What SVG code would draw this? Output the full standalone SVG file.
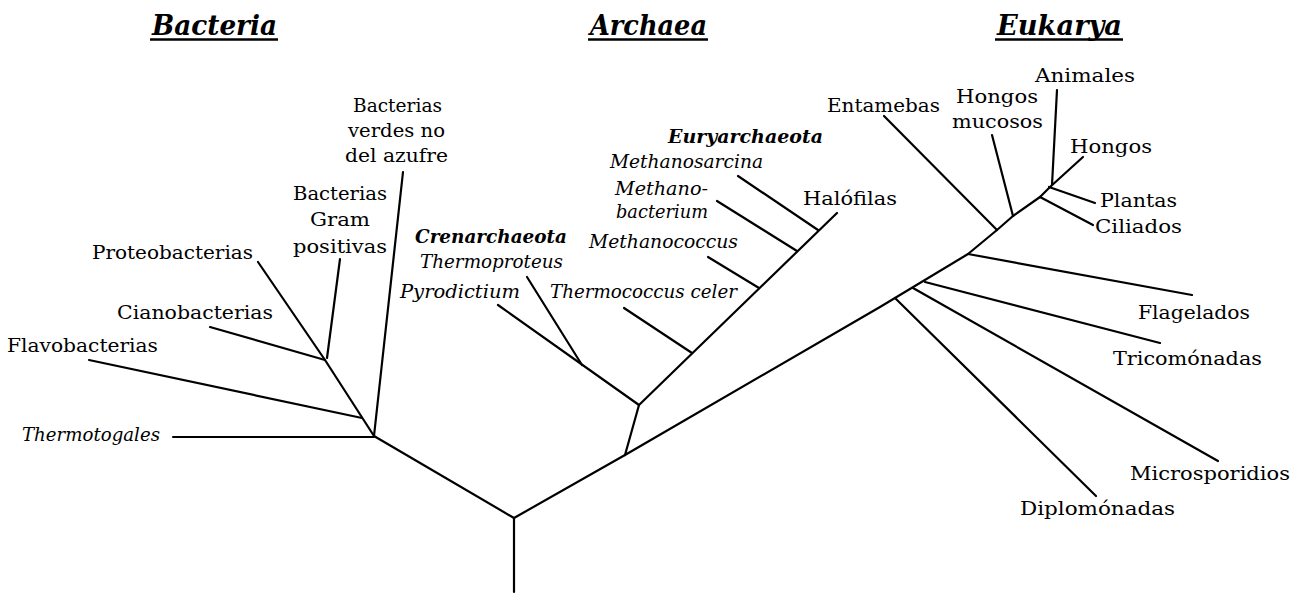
<svg xmlns="http://www.w3.org/2000/svg" width="1296" height="598" viewBox="0 0 1296 598">
<style>
text{font-family:"DejaVu Serif","Liberation Serif",serif;font-size:18px;fill:#000}
.i{font-style:italic}
.bi{font-style:italic;font-weight:bold}
.t{font-style:italic;font-weight:bold;font-size:27px}
.ul{stroke:#000;stroke-width:2.5}
#connectors line,#connectors polyline{stroke:#000;stroke-width:2.2;fill:none;stroke-linecap:round;stroke-linejoin:round}
</style>
<rect width="1296" height="598" fill="#fff"/>
<g id="titles">
<g id="title-bacteria"><text class="t" x="152" y="35" textLength="125" lengthAdjust="spacingAndGlyphs">Bacteria</text><line class="ul" x1="150" y1="39.5" x2="278" y2="39.5"/></g>
<g id="title-archaea"><text class="t" x="590" y="35" textLength="117" lengthAdjust="spacingAndGlyphs">Archaea</text><line class="ul" x1="588" y1="39.5" x2="708" y2="39.5"/></g>
<g id="title-eukarya"><text class="t" x="997" y="35" textLength="125" lengthAdjust="spacingAndGlyphs">Eukarya</text><line class="ul" x1="995" y1="39.5" x2="1123" y2="39.5"/></g>
</g>
<g id="connectors">
<line x1="514" y1="592" x2="514" y2="518"/>
<line x1="514" y1="518" x2="374" y2="436"/>
<line x1="173" y1="437" x2="374" y2="437"/>
<line x1="374" y1="436" x2="403" y2="172"/>
<line x1="374" y1="436" x2="325" y2="360"/>
<line x1="89" y1="360" x2="362" y2="418"/>
<line x1="210" y1="327" x2="325" y2="360"/>
<line x1="258" y1="262" x2="325" y2="360"/>
<line x1="340" y1="259" x2="327" y2="358"/>
<line x1="514" y1="518" x2="625" y2="455"/>
<line x1="625" y1="455" x2="639" y2="405"/>
<line x1="498" y1="305" x2="639" y2="405"/>
<line x1="527" y1="277" x2="582" y2="365"/>
<line x1="639" y1="405" x2="837" y2="213"/>
<line x1="624" y1="308" x2="692" y2="353"/>
<line x1="708" y1="257" x2="759" y2="288"/>
<line x1="717" y1="201" x2="797" y2="251"/>
<line x1="738" y1="176" x2="818" y2="230"/>
<polyline points="625,455 880,307 968,254 997,230 1013,216 1040,197 1050,187"/>
<line x1="884" y1="116" x2="997" y2="230"/>
<line x1="992" y1="135" x2="1013" y2="216"/>
<line x1="1057" y1="90" x2="1052" y2="185"/>
<line x1="1083" y1="157" x2="1050" y2="187"/>
<line x1="1049" y1="187" x2="1095" y2="203"/>
<line x1="1040" y1="197" x2="1093" y2="225"/>
<line x1="968" y1="254" x2="1192" y2="295"/>
<line x1="925" y1="282" x2="1160" y2="343"/>
<line x1="913" y1="288" x2="1218" y2="461"/>
<line x1="895" y1="298" x2="1096" y2="496"/>
</g>
<g id="node-verdes"><text x="353" y="112" textLength="89" lengthAdjust="spacingAndGlyphs">Bacterias</text><text x="348" y="137" textLength="97" lengthAdjust="spacingAndGlyphs">verdes no</text><text x="345" y="162" textLength="103" lengthAdjust="spacingAndGlyphs">del azufre</text></g>
<g id="node-gram"><text x="293" y="200" textLength="94" lengthAdjust="spacingAndGlyphs">Bacterias</text><text x="310" y="226" textLength="60" lengthAdjust="spacingAndGlyphs">Gram</text><text x="293" y="253" textLength="94" lengthAdjust="spacingAndGlyphs">positivas</text></g>
<g id="node-proteo"><text x="92" y="259" textLength="161" lengthAdjust="spacingAndGlyphs">Proteobacterias</text></g>
<g id="node-ciano"><text x="117" y="319" textLength="156" lengthAdjust="spacingAndGlyphs">Cianobacterias</text></g>
<g id="node-flavo"><text x="7" y="352" textLength="151" lengthAdjust="spacingAndGlyphs">Flavobacterias</text></g>
<g id="node-thermotogales"><text class="i" x="22" y="441" textLength="138" lengthAdjust="spacingAndGlyphs">Thermotogales</text></g>
<g id="node-euryarchaeota"><text class="bi" x="668" y="143" textLength="155" lengthAdjust="spacingAndGlyphs">Euryarchaeota</text></g>
<g id="node-methanosarcina"><text class="i" x="610" y="168" textLength="153" lengthAdjust="spacingAndGlyphs">Methanosarcina</text></g>
<g id="node-methanobacterium"><text class="i" x="615" y="195" textLength="93" lengthAdjust="spacingAndGlyphs">Methano-</text><text class="i" x="616" y="218" textLength="92" lengthAdjust="spacingAndGlyphs">bacterium</text></g>
<g id="node-methanococcus"><text class="i" x="589" y="248" textLength="149" lengthAdjust="spacingAndGlyphs">Methanococcus</text></g>
<g id="node-halofilas"><text x="803" y="205" textLength="94" lengthAdjust="spacingAndGlyphs">Halófilas</text></g>
<g id="node-crenarchaeota"><text class="bi" x="415" y="243" textLength="152" lengthAdjust="spacingAndGlyphs">Crenarchaeota</text></g>
<g id="node-thermoproteus"><text class="i" x="420" y="268" textLength="143" lengthAdjust="spacingAndGlyphs">Thermoproteus</text></g>
<g id="node-pyrodictium"><text class="i" x="400" y="298" textLength="120" lengthAdjust="spacingAndGlyphs">Pyrodictium</text></g>
<g id="node-thermococcus"><text class="i" x="550" y="298" textLength="187" lengthAdjust="spacingAndGlyphs">Thermococcus celer</text></g>
<g id="node-entamebas"><text x="827" y="112" textLength="113" lengthAdjust="spacingAndGlyphs">Entamebas</text></g>
<g id="node-hongos-mucosos"><text x="956" y="103" textLength="82" lengthAdjust="spacingAndGlyphs">Hongos</text><text x="952" y="128" textLength="91" lengthAdjust="spacingAndGlyphs">mucosos</text></g>
<g id="node-animales"><text x="1035" y="82" textLength="100" lengthAdjust="spacingAndGlyphs">Animales</text></g>
<g id="node-hongos"><text x="1070" y="153" textLength="82" lengthAdjust="spacingAndGlyphs">Hongos</text></g>
<g id="node-plantas"><text x="1100" y="207" textLength="77" lengthAdjust="spacingAndGlyphs">Plantas</text></g>
<g id="node-ciliados"><text x="1095" y="233" textLength="87" lengthAdjust="spacingAndGlyphs">Ciliados</text></g>
<g id="node-flagelados"><text x="1138" y="319" textLength="112" lengthAdjust="spacingAndGlyphs">Flagelados</text></g>
<g id="node-tricomonadas"><text x="1113" y="365" textLength="149" lengthAdjust="spacingAndGlyphs">Tricomónadas</text></g>
<g id="node-microsporidios"><text x="1130" y="480" textLength="160" lengthAdjust="spacingAndGlyphs">Microsporidios</text></g>
<g id="node-diplomonadas"><text x="1020" y="515" textLength="155" lengthAdjust="spacingAndGlyphs">Diplomónadas</text></g>
</svg>
